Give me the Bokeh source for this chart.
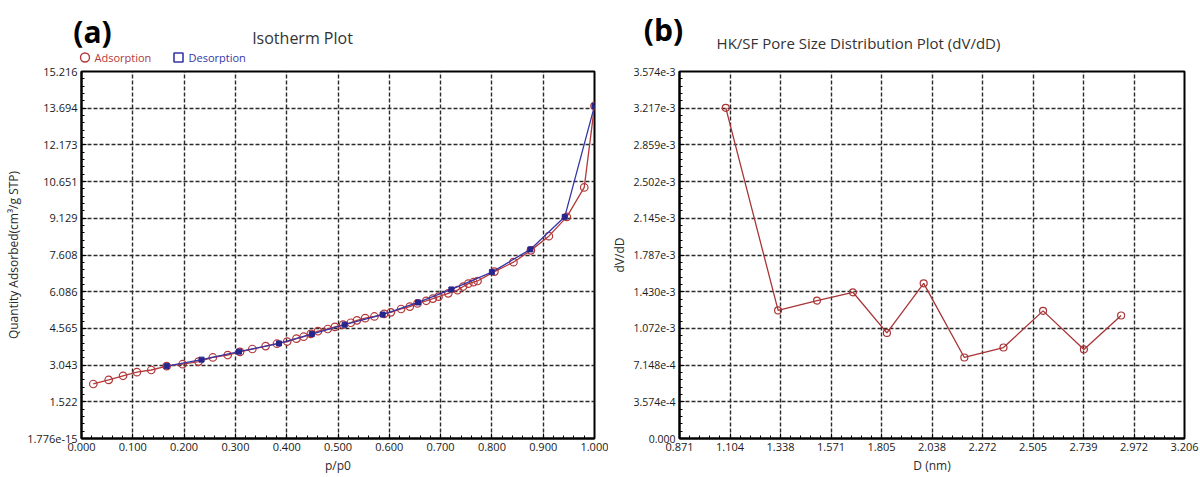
import numpy as np
from bokeh.plotting import figure
from bokeh.models import FixedTicker, Range1d
from bokeh.layouts import row, column
from bokeh.embed import file_html
from bokeh.resources import INLINE
from bokeh.core.properties import value

# ---------------- data ----------------
ads_p = [0.023, 0.053, 0.081, 0.108, 0.136, 0.166, 0.197, 0.228, 0.256, 0.285,
         0.309, 0.333, 0.359, 0.381, 0.401, 0.419, 0.433, 0.447, 0.461, 0.480,
         0.494, 0.510, 0.525, 0.537, 0.553, 0.571, 0.590, 0.603, 0.623, 0.640,
         0.655, 0.672, 0.685, 0.696, 0.715, 0.733, 0.744, 0.754, 0.764, 0.772,
         0.805, 0.842, 0.876, 0.911, 0.946, 0.980, 1.000]
ads_q = [2.26, 2.43, 2.60, 2.75, 2.84, 3.00, 3.08, 3.19, 3.36, 3.46,
         3.59, 3.71, 3.83, 3.93, 4.02, 4.14, 4.22, 4.34, 4.45, 4.54,
         4.63, 4.72, 4.80, 4.90, 4.99, 5.06, 5.17, 5.23, 5.37, 5.47,
         5.60, 5.71, 5.80, 5.88, 6.02, 6.15, 6.30, 6.42, 6.48, 6.53,
         6.92, 7.31, 7.80, 8.39, 9.19, 10.41, 13.79]

des_p = [1.000, 0.942, 0.875, 0.800, 0.721, 0.656, 0.587, 0.513, 0.449,
         0.385, 0.307, 0.234, 0.166]
des_q = [13.79, 9.19, 7.84, 6.90, 6.18, 5.64, 5.14, 4.72, 4.33,
         3.94, 3.60, 3.27, 3.00]

psd_d = [1.085, 1.327, 1.507, 1.673, 1.830, 2.000, 2.188, 2.369, 2.552, 2.741, 2.913]
psd_v = [3.22e-3, 1.247e-3, 1.343e-3, 1.424e-3, 1.028e-3, 1.511e-3,
         7.89e-4, 8.86e-4, 1.243e-3, 8.67e-4, 1.198e-3]

iso_x_ticks = [0.0, 0.1, 0.2, 0.3, 0.4, 0.5, 0.6, 0.7, 0.8, 0.9, 1.0]
iso_x_labels = ["0.000", "0.100", "0.200", "0.300", "0.400", "0.500",
                "0.600", "0.700", "0.800", "0.900", "1.000"]
iso_y_ticks = [0.0, 1.5216, 3.0432, 4.5648, 6.0864, 7.608, 9.1296,
               10.6512, 12.1728, 13.6944, 15.216]
iso_y_labels = ["1.776e-15", "1.522", "3.043", "4.565", "6.086", "7.608",
                "9.129", "10.651", "12.173", "13.694", "15.216"]

psd_x_ticks = [0.871, 1.1045, 1.338, 1.5715, 1.805, 2.0385, 2.272,
               2.5055, 2.739, 2.9725, 3.206]
psd_x_labels = ["0.871", "1.104", "1.338", "1.571", "1.805", "2.038",
                "2.272", "2.505", "2.739", "2.972", "3.206"]
psd_y_ticks = [0.0, 3.574e-4, 7.148e-4, 1.0722e-3, 1.4296e-3, 1.787e-3,
               2.1444e-3, 2.5018e-3, 2.8592e-3, 3.2166e-3, 3.574e-3]
psd_y_labels = ["0.000", "3.574e-4", "7.148e-4", "1.072e-3", "1.430e-3",
                "1.787e-3", "2.145e-3", "2.502e-3", "2.859e-3", "3.217e-3",
                "3.574e-3"]

series_names = ["Adsorption", "Desorption"]

# ---------------- styling ----------------
FONT = "Open Sans"
RED = "#b3383a"
BLUE = "#3636a6"
BLUE_FILL = "#26268e"
PSD_RED = "#a83436"

TOTAL_W, TOTAL_H = 1200, 476
HEAD_H = 64                       # header strip: page y 0 .. 64
MAIN_H = TOTAL_H - HEAD_H
TOP_B = 7                         # frame top at page y 71
FRAME_H = 368                     # frame bottom at page y 439
BOT_B = MAIN_H - TOP_B - FRAME_H
LEFT_W = 608
RIGHT_W = TOTAL_W - LEFT_W


def minors(ticks, n=5):
    out = []
    for a, b in zip(ticks[:-1], ticks[1:]):
        out += [a + (b - a) * k / n for k in range(1, n)]
    return out


def style(p, xt, xl, yt, yl, xlabel, ylabel, ylab_size):
    p.xaxis.ticker = FixedTicker(ticks=xt, minor_ticks=minors(xt))
    p.yaxis.ticker = FixedTicker(ticks=yt, minor_ticks=minors(yt))
    p.xaxis.major_label_overrides = dict(zip(xt, xl))
    p.yaxis.major_label_overrides = dict(zip(yt, yl))
    p.xaxis.axis_label = xlabel
    p.yaxis.axis_label = ylabel
    for ax in p.axis:
        ax.major_tick_in = 5
        ax.major_tick_out = 0
        ax.minor_tick_in = 3
        ax.minor_tick_out = 0
        ax.axis_line_width = 2
        ax.axis_line_color = "black"
        ax.major_tick_line_color = "black"
        ax.minor_tick_line_color = "black"
        ax.major_label_text_font = FONT
        ax.major_label_text_font_size = "11px"
        ax.major_label_text_color = "#1a1a1a"
        ax.axis_label_text_font = FONT
        ax.axis_label_text_font_size = "12px"
        ax.axis_label_text_font_style = "normal"
        ax.axis_label_text_color = "#2a2a2a"
    p.yaxis.major_label_text_font_size = ylab_size
    p.xaxis.major_label_standoff = 4
    p.xaxis.axis_label_standoff = 3
    p.yaxis.major_label_standoff = 4
    p.yaxis.axis_label_standoff = 2
    p.grid.grid_line_color = "#2a2a2a"
    p.grid.grid_line_dash = "4 2"
    p.grid.grid_line_width = 1.4
    p.outline_line_color = "black"
    p.outline_line_width = 2


def txt(h, x, y, s, size, bold=False, color="#333333", align="center"):
    h.text(x=[x], y=[y], text=[s], text_font=value(FONT),
           text_font_size=value(size), text_color=color,
           text_font_style="bold" if bold else "normal",
           text_align=align, text_baseline="middle")


# ---------------- header strip (page pixel coordinates) ----------------
head = figure(width=TOTAL_W, height=HEAD_H, output_backend="svg",
              toolbar_location=None,
              x_range=Range1d(0, TOTAL_W), y_range=Range1d(HEAD_H, 0),
              x_axis_location=None, y_axis_location=None,
              min_border=0, min_border_left=0, min_border_right=0,
              min_border_top=0, min_border_bottom=0,
              background_fill_color="white", border_fill_color="white")
head.outline_line_color = None
head.grid.visible = False

txt(head, 92, 31, "(a)", "30px", bold=True, color="black")
txt(head, 302, 37, "Isotherm Plot", "16px")
head.scatter([84.5], [57], marker="circle", size=9, line_color=RED,
             line_width=1.4, fill_color=None)
txt(head, 94, 57, series_names[0], "11px", color=RED, align="left")
head.scatter([178], [57], marker="square", size=9, line_color=BLUE,
             line_width=1.6, fill_color=None)
txt(head, 188, 57, series_names[1], "11px", color=BLUE, align="left")
txt(head, 663, 29, "(b)", "30px", bold=True, color="black")
txt(head, 858, 42, "HK/SF Pore Size Distribution Plot (dV/dD)", "15px")

# ---------------- (a) isotherm ----------------
p1 = figure(width=LEFT_W, height=MAIN_H, output_backend="svg", toolbar_location=None,
            x_range=Range1d(0, 1.0), y_range=Range1d(0, 15.216),
            min_border_left=81, min_border_right=LEFT_W - 81 - 513,
            min_border_top=TOP_B, min_border_bottom=BOT_B,
            background_fill_color="white", border_fill_color="white")
style(p1, iso_x_ticks, iso_x_labels, iso_y_ticks, iso_y_labels,
      "p/p0", "Quantity Adsorbed(cm³/g STP)", "11px")

p1.line(ads_p, ads_q, line_color=RED, line_width=1.3)
p1.scatter(ads_p, ads_q, marker="circle", size=7.5, line_color=RED,
           line_width=1.2, fill_color=None)
p1.line(des_p, des_q, line_color=BLUE, line_width=1.3)
p1.scatter(des_p, des_q, marker="square", size=5, line_color=BLUE_FILL,
           fill_color=BLUE_FILL)

# ---------------- (b) pore size distribution ----------------
p2 = figure(width=RIGHT_W, height=MAIN_H, output_backend="svg", toolbar_location=None,
            x_range=Range1d(0.871, 3.206), y_range=Range1d(0, 3.574e-3),
            min_border_left=678 - LEFT_W, min_border_right=RIGHT_W - (678 - LEFT_W) - 506,
            min_border_top=TOP_B, min_border_bottom=BOT_B,
            background_fill_color="white", border_fill_color="white")
style(p2, psd_x_ticks, psd_x_labels, psd_y_ticks, psd_y_labels,
      "D (nm)", "dV/dD", "10.5px")

p2.line(psd_d, psd_v, line_color=PSD_RED, line_width=1.3)
p2.scatter(psd_d, psd_v, marker="circle", size=7, line_color=PSD_RED,
           line_width=1.2, fill_color=None)

layout = column(head, row(p1, p2))
open("out.html", "w").write(file_html(layout, INLINE))
